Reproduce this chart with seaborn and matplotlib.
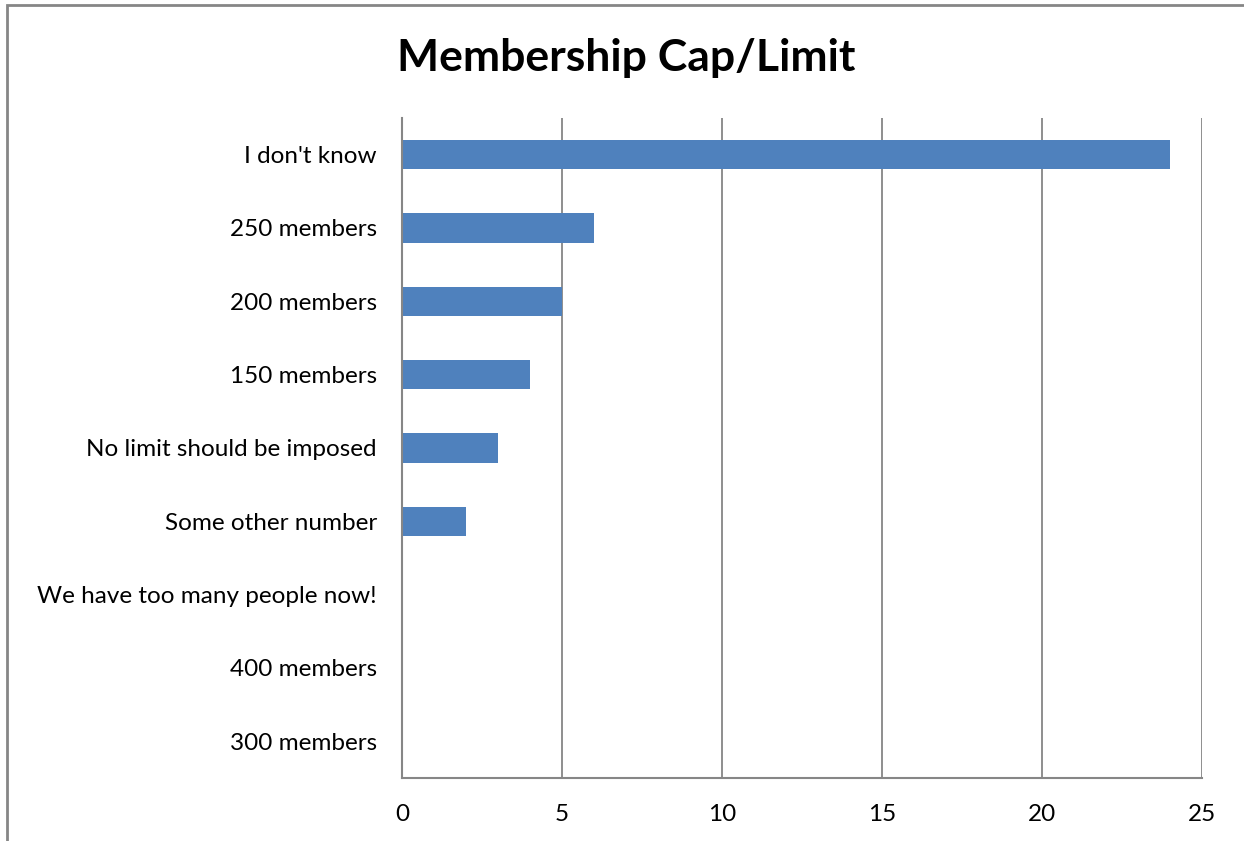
import matplotlib
matplotlib.use("Agg")
import matplotlib.pyplot as plt
import seaborn as sns
import pandas as pd
from matplotlib.patches import Rectangle

# survey answers, top to bottom as shown
answers = ["I don't know", "250 members", "200 members", "150 members",
           "No limit should be imposed", "Some other number",
           "We have too many people now!", "400 members", "300 members"]
counts = [24, 6, 5, 4, 3, 2, 0, 0, 0]
xticks = [0, 5, 10, 15, 20, 25]

sns.set_style("white")
plt.rcParams['font.family'] = ['Lato', 'DejaVu Sans']
plt.rcParams['text.color'] = 'black'
plt.rcParams['xtick.color'] = 'black'
plt.rcParams['ytick.color'] = 'black'

df = pd.DataFrame({'answer': answers, 'count': counts})

fig = plt.figure(figsize=(12.44, 8.41), dpi=100)
ax = fig.add_axes([402 / 1244, 1 - 778 / 841, 800 / 1244, 660 / 841])

sns.barplot(data=df, x='count', y='answer', orient='h', color='#4F81BD',
            saturation=1, width=0.4, linewidth=0, ax=ax)

grey = '#868686'
ax.set_xlim(0, 25)
ax.set_xticks(xticks)
ax.xaxis.grid(True, color=grey, linewidth=1.3)
ax.set_axisbelow(True)
for s in ['top', 'right']:
    ax.spines[s].set_visible(False)
for s in ['left', 'bottom']:
    ax.spines[s].set_color(grey)
    ax.spines[s].set_linewidth(1.5)
ax.tick_params(axis='both', length=0, labelsize=17.5)
ax.tick_params(axis='y', pad=18)
ax.tick_params(axis='x', pad=19)
ax.set_xlabel('')
ax.set_ylabel('')

fig.text(0.503, 1 - 58 / 841, 'Membership Cap/Limit', ha='center', va='center',
         fontsize=32, fontweight='bold')

# chart frame, cut at the right and bottom edges
fig.patches.append(Rectangle((7 / 1244, -0.1), 1.2, 1 - 5 / 841 + 0.1,
                             transform=fig.transFigure, fill=False,
                             edgecolor=grey, linewidth=2))

fig.savefig('out.png', dpi=100)
